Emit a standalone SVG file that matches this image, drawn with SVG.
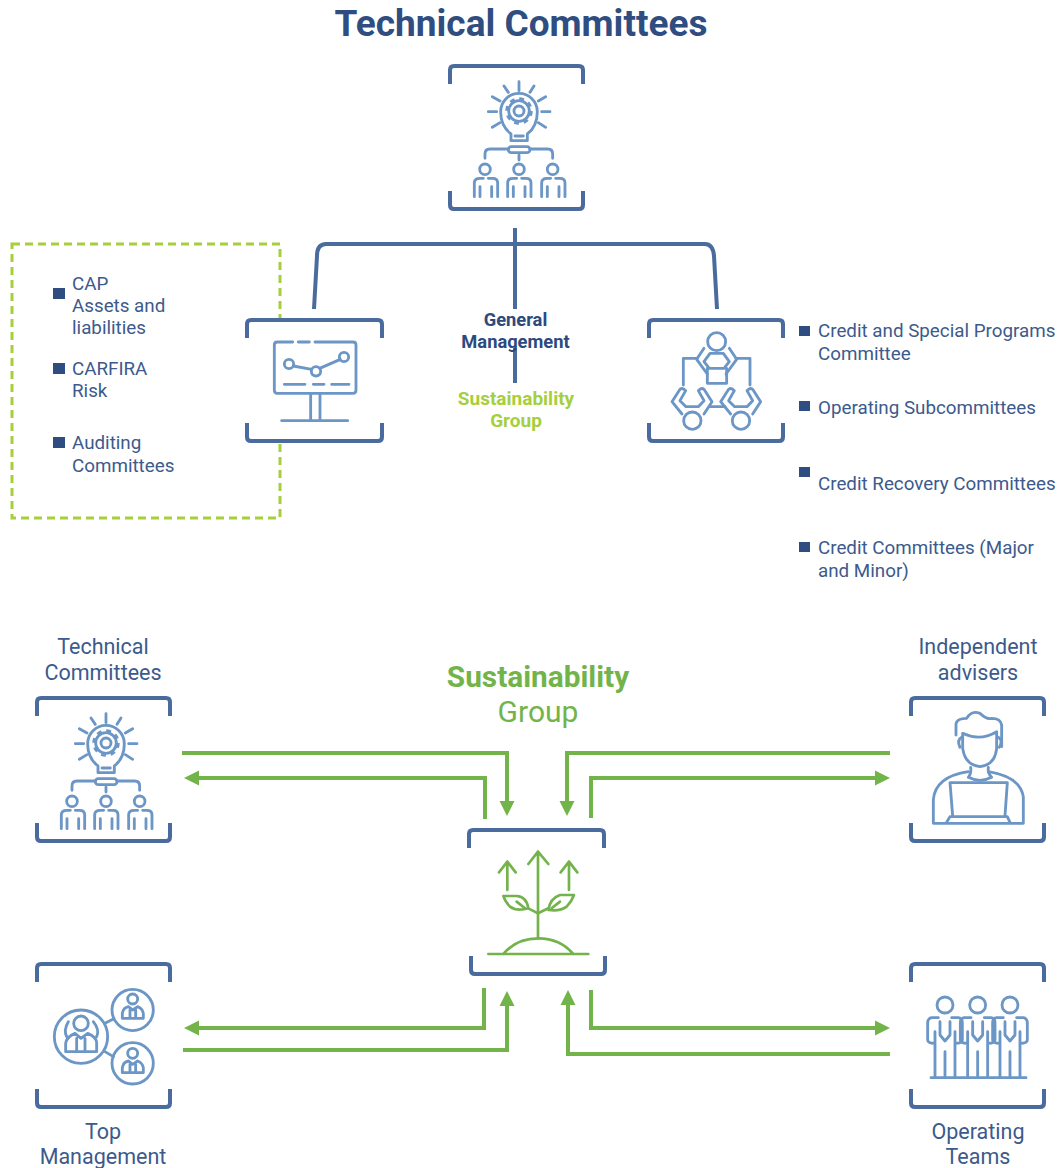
<svg xmlns="http://www.w3.org/2000/svg" width="1060" height="1168" viewBox="0 0 1060 1168">
<style>
text{font-family:Roboto,"Liberation Sans",sans-serif}
.t{font-size:18.8px;fill:#3c5a8c}
.c{text-anchor:middle}
.l{font-size:21.5px;fill:#3c5a8c;text-anchor:middle}
.gm{font-size:18.3px;font-weight:700;fill:#2c4a7e;text-anchor:middle}
.sg{font-size:19px;font-weight:700;fill:#a6cf3c;text-anchor:middle}
.b{fill:none;stroke:#4a6b9e;stroke-width:4;stroke-linecap:butt;stroke-linejoin:round}
.i{fill:none;stroke:#6b96c6;stroke-width:8.500;stroke-linecap:round;stroke-linejoin:round}
.s{fill:none;stroke:#74b34c;stroke-width:8;stroke-linecap:round;stroke-linejoin:round}
.a{fill:none;stroke:#72b44a;stroke-width:4;stroke-linejoin:miter}
.k{fill:#2f4d80}
.tree{fill:none;stroke:#4a6b9e;stroke-width:4}
</style>
<defs>
<marker id="ah" markerUnits="userSpaceOnUse" markerWidth="16" markerHeight="16" refX="1" refY="8" orient="auto"><path d="M0,0.5L15,8L0,15.5z" fill="#72b44a"/></marker>
<path id="br" d="M2,20V6Q2,2 6,2H131Q135,2 135,6V20M2,127V141Q2,145 6,145H131Q135,145 135,141V127"/>
<g id="bulb" class="i">
<path d="M243,272V252C225,238 212,215 212,185A55,55 0 0 1 322,185C322,215 310,238 292,252V272Z"/>
<path d="M255,258H280"/>
<circle cx="267" cy="183" r="31"/>
<circle cx="267" cy="183" r="37" stroke-dasharray="14.500 14.500" stroke-linecap="butt"/>
<circle cx="267" cy="183" r="15"/>
<path d="M267,95V122M222,108L235,127M312,108L300,127M187,140L210,153M347,140L325,153M175,185H200M335,185H360M187,232L210,218M347,232L325,218"/>
<rect x="235" y="290" width="65" height="18" rx="9"/>
<path d="M235,297H180Q165,297 165,312V325M300,297H353Q368,297 368,312V325M267,315V330"/>
<circle cx="165" cy="358" r="16"/><circle cx="267" cy="358" r="16"/><circle cx="368" cy="358" r="16"/>
<g id="bp"><path d="M133,440V398Q133,385 150,385H160M175,385H188Q203,385 203,398V440M150,410V440M185,410V440"/></g>
<use href="#bp" x="100"/><use href="#bp" x="202"/>
</g>
<g id="tm">
<path d="M0,38H-20Q-32,40 -32,55V105Q-32,115 -10,115M-10,80V218M20,140V218M50,80V218M40,38H60Q72,40 72,55V105Q72,115 50,115"/>
<path d="M5,50V90L20,108L35,90V50"/>
</g>
<path id="ms" d="M-31,58V43Q-28,26 -13,23L0,33L15,23Q29,28 32,43V58ZM-8,33V58M9,33V58"/>
<g id="mp"><path d="M150,268L126,305L156,342M150,268Q158,262 167,272L150,302L168,320H205L222,302L205,272Q214,262 222,268L246,305L222,342"/></g>
</defs>

<g id="dashed-box"><rect x="12" y="244" width="268" height="274" fill="none" stroke="#a6cf3c" stroke-width="3" stroke-dasharray="8 5"/></g>

<g id="connectors">
<path class="tree" d="M314,309L317,256Q317,244 326,244H705Q713,244 714,256L717,309"/>
<path class="tree" d="M515,228V309M515,348V383"/>
<path class="a" d="M182,753H507V802" marker-end="url(#ah)"/>
<path class="a" d="M485,819V778H198" marker-end="url(#ah)"/>
<path class="a" d="M890,753H567V802" marker-end="url(#ah)"/>
<path class="a" d="M591,818V778H876" marker-end="url(#ah)"/>
<path class="a" d="M484,988V1028H198" marker-end="url(#ah)"/>
<path class="a" d="M183,1050H507V1005" marker-end="url(#ah)"/>
<path class="a" d="M591,990V1028H876" marker-end="url(#ah)"/>
<path class="a" d="M890,1054H568V1004" marker-end="url(#ah)"/>
</g>

<text id="title" x="521" y="36" text-anchor="middle" style="font-size:37px;font-weight:700;fill:#2f4d80">Technical Committees</text>

<g id="node-technical-top">
<use href="#br" x="448" y="64" class="b"/>
<use href="#bulb" transform="translate(430,50) scale(.3333)"/>
</g>

<g id="node-monitor">
<rect x="247" y="318" width="135" height="124" fill="#fff"/>
<path class="b" d="M247,338V324Q247,320 251,320H378Q382,320 382,324V338M247,423V437Q247,441 251,441H378Q382,441 382,437V423"/>
<g class="i" transform="translate(230,300) scale(.3333)">
<path d="M188,126H142Q133,126 133,135V271Q133,280 142,280H369Q378,280 378,271V135Q378,126 369,126H255M205,126H238"/>
<circle cx="177" cy="192" r="14"/><circle cx="258" cy="214" r="14"/><circle cx="342" cy="171" r="14"/>
<path d="M190,198L245,208M269,205L331,178M163,253H225M250,253H282M305,253H357M242,280V362M270,280V362M155,362H353"/>
</g>
</g>

<g id="node-meeting">
<path class="b" d="M649,338V324Q649,320 653,320H779Q783,320 783,324V338M649,423V437Q649,441 653,441H779Q783,441 783,437V423"/>
<g class="i" transform="translate(630,300) scale(.3333)">
<circle cx="260" cy="125" r="27"/>
<path d="M240,160L222,185L238,205H282L298,185L280,160ZM232,205V250H290V205"/>
<path d="M222,145L200,178L232,222M298,145L320,178L288,222M203,175H160V255M317,175H360V255"/>
<circle cx="187" cy="362" r="26"/><circle cx="333" cy="362" r="26"/>
<use href="#mp"/><use href="#mp" x="146"/>
<path d="M240,320H285"/>
</g>
</g>

<g id="list-left">
<rect class="k" x="53" y="288" width="12" height="11"/><rect class="k" x="53" y="363" width="12" height="11"/><rect class="k" x="53" y="437" width="12" height="11"/>
<text class="t" x="72" y="290">CAP</text><text class="t" x="72" y="312">Assets and</text><text class="t" x="72" y="334">liabilities</text>
<text class="t" x="72" y="375">CARFIRA</text><text class="t" x="72" y="397">Risk</text>
<text class="t" x="72" y="449">Auditing</text><text class="t" x="72" y="472">Committees</text>
</g>

<g id="center-labels">
<text class="gm" x="515.500" y="326">General</text><text class="gm" x="515.500" y="348">Management</text>
<text class="sg" x="516" y="405">Sustainability</text><text class="sg" x="516" y="427">Group</text>
</g>

<g id="list-right">
<rect class="k" x="799" y="326" width="11" height="10"/><rect class="k" x="799" y="401" width="11" height="10"/><rect class="k" x="799" y="467" width="11" height="10"/><rect class="k" x="799" y="542" width="11" height="10"/>
<text class="t" x="818" y="337">Credit and Special Programs</text><text class="t" x="818" y="360">Committee</text>
<text class="t" x="818" y="414">Operating Subcommittees</text>
<text class="t" x="818" y="490">Credit Recovery Committees</text>
<text class="t" x="818" y="554">Credit Committees (Major</text><text class="t" x="818" y="577">and Minor)</text>
</g>

<g id="node-technical-bottom">
<text class="l" x="103" y="654">Technical</text><text class="l" x="103" y="680">Committees</text>
<use href="#br" x="35" y="696" class="b"/>
<use href="#bulb" transform="translate(17,682) scale(.3333)"/>
</g>

<g id="node-advisers">
<text class="l" x="978" y="654">Independent</text><text class="l" x="978" y="680">advisers</text>
<use href="#br" x="909" y="696" class="b"/>
<g class="i" transform="translate(900,690) scale(.3333)">
<path d="M168,135V102Q170,85 200,85Q215,60 240,70Q260,90 275,85Q302,85 305,105V170"/>
<path d="M188,130Q240,155 290,125V175Q285,225 240,230Q195,225 188,175Z"/>
<path d="M185,142Q170,150 180,172M295,142Q310,150 298,172"/>
<path d="M212,232Q215,250 205,262Q240,280 275,262Q262,250 265,232"/>
<path d="M205,245Q105,260 100,330V400H370V320Q360,260 265,245"/>
<path d="M158,378L150,278H322L315,378"/>
<path d="M140,397L150,380H322L330,397"/>
</g>
</g>

<g id="node-sustainability">
<text x="538" y="687" class="c" style="font-size:29.800px;font-weight:700;fill:#72b44a">Sustainability</text>
<text x="538" y="722" class="c" style="font-size:30px;fill:#72b44a">Group</text>
<path class="b" d="M469,848V834Q469,830 473,830H600Q604,830 604,834V848M471,956V970Q471,974 475,974H601Q605,974 605,970V956"/>
<g class="s" transform="translate(460,820) scale(.3333)">
<path d="M234,355V95M205,132L234,95L265,132M142,210V125M117,157L142,125L167,157M327,210V125M302,157L327,125L352,157"/>
<path d="M130,228H170Q200,230 205,265Q170,275 150,260Q135,245 130,228ZM170,245L195,265"/>
<path d="M342,225H300Q270,235 265,270Q300,275 320,260Q335,245 342,225ZM300,245L275,265"/>
<path d="M205,265L234,280L265,265M85,402H385M130,402Q170,355 235,355Q300,355 340,402"/>
</g>
</g>

<g id="node-top-management">
<use href="#br" x="35" y="962" class="b"/>
<g class="i" transform="translate(25,955) scale(.3333)">
<circle cx="168" cy="245" r="80"/><circle cx="323" cy="165" r="62"/><circle cx="323" cy="325" r="62"/>
<path d="M240,205L265,192M240,290L265,305"/>
<circle cx="168" cy="205" r="22"/>
<path d="M130,200Q115,225 125,245M205,200Q225,225 215,245"/>
<path d="M122,290V265Q125,245 150,235L168,250L188,235Q215,245 215,265V290ZM155,250V290M180,250V290"/>
<circle cx="323" cy="132" r="15"/><use href="#ms" transform="translate(323,132)"/>
<circle cx="323" cy="295" r="15"/><use href="#ms" transform="translate(323,295)"/>
</g>
<text class="l" x="103" y="1139">Top</text><text class="l" x="103" y="1164">Management</text>
</g>

<g id="node-operating-teams">
<use href="#br" x="909" y="962" class="b"/>
<g class="i" transform="translate(900,955) scale(.3333)">
<circle cx="135" cy="150" r="24"/><circle cx="233" cy="150" r="24"/><circle cx="330" cy="150" r="24"/>
<use href="#tm" transform="translate(115,150)"/><use href="#tm" transform="translate(213,150)"/><use href="#tm" transform="translate(310,150)"/>
<path d="M93,368H378"/>
</g>
<text class="l" x="978" y="1139">Operating</text><text class="l" x="978" y="1164">Teams</text>
</g>
</svg>
